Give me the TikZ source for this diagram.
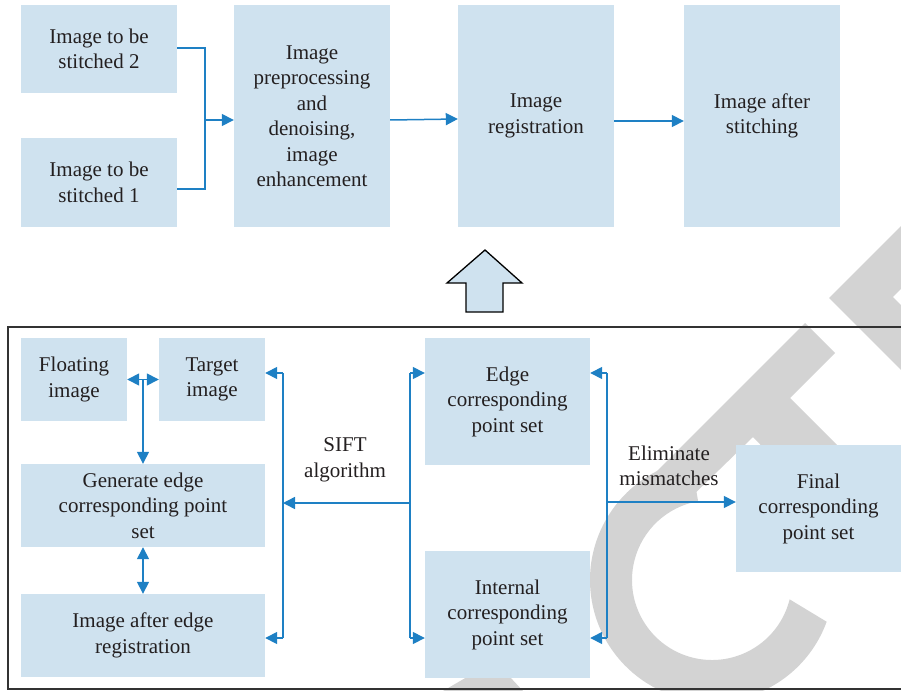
\documentclass[tikz,border=0pt]{standalone}
\usepackage{fontspec}
\setmainfont{Liberation Serif}
\usetikzlibrary{arrows.meta,calc}
\definecolor{boxblue}{RGB}{207,226,239}
\definecolor{arrblue}{RGB}{30,128,196}
\definecolor{txt}{RGB}{35,31,32}
\definecolor{wm}{RGB}{211,211,211}
\definecolor{frame}{RGB}{51,51,51}
\begin{document}
\begin{tikzpicture}[x=1pt,y=-1pt,
  box/.style={fill=boxblue, inner sep=0pt, align=center, text=txt, font=\fontsize{21}{25.5}\selectfont},
  conn/.style={draw=arrblue, line width=1.5pt},
  arr/.style={conn, -{Triangle[length=12pt,width=12pt]}},
  darr/.style={conn, {Triangle[length=12pt,width=12pt]}-{Triangle[length=12pt,width=12pt]}},
  lbl/.style={align=center, text=txt, inner sep=1pt, font=\fontsize{21}{25.5}\selectfont}]
\useasboundingbox (0,0) rectangle (901,690);
\clip (0,0) rectangle (901,690);
% watermark (behind everything)
\fill[wm] (829,298) -- (905,222) -- (905,374) -- cycle;
\fill[white] (893,297) -- (905,285) -- (905,309) -- cycle;
\fill[wm] (805,323) -- (835,353) -- (790,398) -- (910,518) -- (860,548) -- (753,437) -- (687,501) -- (657,471) -- cycle;
\fill[wm] ($(712,580)+(100:122pt)$) arc[start angle=100, end angle=340, radius=122pt]
   -- ($(712,580)+(346:80pt)$) arc[start angle=346, end angle=100, radius=80pt] -- cycle;
\fill[wm] (443,691) -- (467,677) -- (510,677) -- (523,691) -- cycle;
% top row
\node[box, minimum width=156pt, minimum height=88pt] (s2) at (99,49) {Image to be\\stitched 2};
\node[box, minimum width=156pt, minimum height=89pt] (s1) at (99,182.5) {Image to be\\stitched 1};
\node[box, minimum width=156pt, minimum height=222pt] (pre) at (312,116) {Image\\preprocessing\\and\\denoising,\\image\\enhancement};
\node[box, minimum width=156pt, minimum height=222pt] (reg) at (536,116) {Image\\registration};
\node[box, minimum width=156pt, minimum height=222pt] (aft) at (762,116) {Image after\\stitching};
\coordinate (j) at (205,120);
\draw[conn] ([yshift=1pt]s2.east) -| (j) |- ([yshift=-6.5pt]s1.east);
\draw[arr] (j) -- (j -| pre.west);
\draw[arr] ([yshift=-4pt]pre.east) -- ([yshift=-3pt]reg.west);
\draw[arr] ([yshift=-5pt]reg.east) -- ([yshift=-5pt]aft.west);
% up arrow
\draw[fill=boxblue, draw=black, line width=1.3pt, line join=miter]
  (485,250) -- (522,283) -- (503,283) -- (503,312) -- (466,312) -- (466,283) -- (447,283) -- cycle;
% frame
\draw[draw=frame, line width=2pt] (8,327) rectangle (915,688.5);
% bottom boxes
\node[box, minimum width=106pt, minimum height=83pt] (float) at (74,379.5) {Floating\\image};
\node[box, minimum width=106pt, minimum height=83pt] (target) at (212,379.5) {Target\\image};
\node[box, minimum width=244pt, minimum height=83pt] (gen) at (143,505.5) {Generate edge\\corresponding point\\set};
\node[box, minimum width=244pt, minimum height=83pt] (aedge) at (143,635.5) {Image after edge\\registration};
\node[box, minimum width=165pt, minimum height=127pt] (edgec) at (507.5,401.5) {Edge\\corresponding\\point set};
\node[box, minimum width=165pt, minimum height=127pt] (internal) at (507.5,614.5) {Internal\\corresponding\\point set};
\node[box, minimum width=165pt, minimum height=127pt] (final) at (818.5,508.5) {Final\\corresponding\\point set};
\node[lbl] (sift) at (345,460) {SIFT\\algorithm};
\node[lbl] (elim) at (669,466) {Eliminate\\mismatches};
% bottom connectors
\draw[darr] (float.east) -- (target.west);
\coordinate (fm) at ($(float.east)!0.5!(target.west)$);
\draw[arr] (fm) -- (fm |- gen.north);
\draw[darr] (gen.south) -- (aedge.north);
\coordinate (L1) at (283,373); \coordinate (L2) at (283,638); \coordinate (LM) at (283,503);
\coordinate (R1) at (410,373); \coordinate (R2) at (410,638); \coordinate (RM) at (410,503);
\coordinate (E1) at (607,373); \coordinate (E2) at (607,638); \coordinate (EM) at (607,502);
\draw[conn] (L1) -- (L2);
\draw[arr] (L1) -- (L1 -| target.east);
\draw[arr] (L2) -- (L2 -| aedge.east);
\draw[conn] (R1) -- (R2);
\draw[arr] (R1) -- (R1 -| edgec.west);
\draw[arr] (R2) -- (R2 -| internal.west);
\draw[arr] (RM) -- (LM);
\draw[conn] (E1) -- (E2);
\draw[arr] (E1) -- (E1 -| edgec.east);
\draw[arr] (E2) -- (E2 -| internal.east);
\draw[arr] (EM) -- (EM -| final.west);
\end{tikzpicture}
\end{document}
